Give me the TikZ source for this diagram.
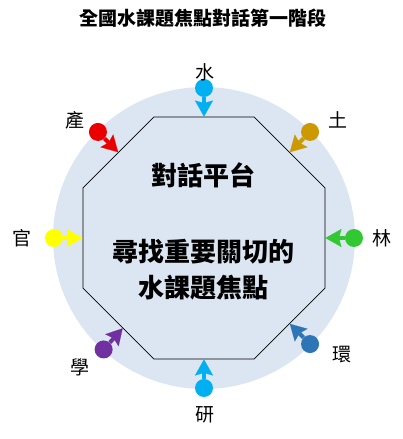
\documentclass[tikz,border=0pt]{standalone}
\usepackage{fontspec}
\setmainfont{Noto Sans CJK TC}
\usetikzlibrary{arrows.meta, shapes.geometric}

\definecolor{discbg}{RGB}{220,230,242}
\definecolor{cyanDot}{RGB}{0,176,240}
\definecolor{goldDot}{RGB}{204,153,0}
\definecolor{greenDot}{RGB}{50,200,50}
\definecolor{blueDot}{RGB}{46,117,182}
\definecolor{purpleDot}{RGB}{112,48,160}
\definecolor{yellowDot}{RGB}{255,255,0}
\definecolor{redDot}{RGB}{235,0,0}

\begin{document}
\begin{tikzpicture}[x=1pt, y=1pt,
  ball/.style={circle, inner sep=0pt, minimum size=18pt, fill=#1},
  push/.style={draw=#1, line width=4pt,
               -{Stealth[length=16pt, width=18pt, inset=2.5pt, line width=0.1pt]}},
  tag/.style={font=\fontsize{19}{23}\selectfont, inner sep=1pt},
  big/.style={font=\fontsize{26}{36}\selectfont\bfseries, align=center},
]
  \useasboundingbox (-204,-201) rectangle (199,238);

  \node[tag, font=\fontsize{19}{23}\selectfont\bfseries] (title) at (-1,220) {全國水課題焦點對話第一階段};

  % disc and platform
  \node[circle, fill=discbg, minimum size=302pt, inner sep=0pt] (disc) at (0,0) {};
  \node[draw, line width=0.8pt, regular polygon, regular polygon sides=8,
        minimum size=262pt, inner sep=0pt] (oct) at (0,0) {};
  \node[big] (platform) at (0,63) {對話平台};
  \node[big] (focus) at (0,-32) {尋找重要關切的\\水課題焦點};

  % the eight parties
  \foreach \a/\n/\c/\t/\lx/\ly in {90/shui/cyanDot/水/1/166, 45/tu/goldDot/土/134/118,
      0/lin/greenDot/林/178/0, -45/huan/blueDot/環/138/-117, -90/yan/cyanDot/研/1/-177,
      -132/xue/purpleDot/學/-124/-129, 180/guan/yellowDot/官/-182/0, 135/chan/redDot/產/-129/118} {
    \node[ball=\c] (\n) at (\a:150) {};
    \draw[push=\c] (\n) -- (oct.\a);
    \node[tag] (\n-t) at (\lx,\ly) {\t};
  }
\end{tikzpicture}
\end{document}
